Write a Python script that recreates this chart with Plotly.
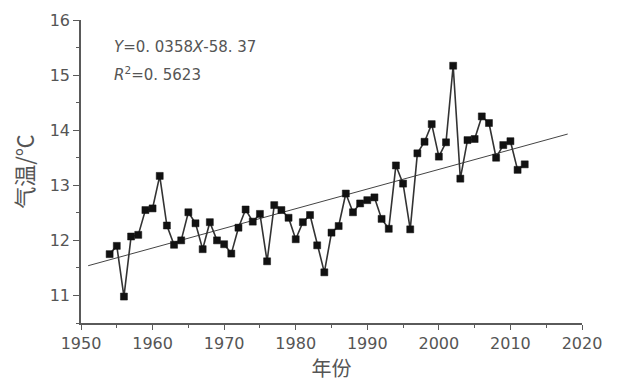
import plotly.graph_objects as go

years = list(range(1954, 2013))
temps = [11.75, 11.90, 10.98, 12.07, 12.10, 12.55, 12.58, 13.17, 12.27, 11.92,
         12.00, 12.51, 12.31, 11.84, 12.33, 12.00, 11.93, 11.76, 12.23, 12.56,
         12.34, 12.48, 11.62, 12.64, 12.55, 12.41, 12.02, 12.33, 12.46, 11.91,
         11.42, 12.14, 12.26, 12.85, 12.51, 12.67, 12.73, 12.78, 12.39, 12.21,
         13.36, 13.03, 12.20, 13.58, 13.79, 14.11, 13.52, 13.78, 15.17, 13.12,
         13.82, 13.84, 14.25, 14.13, 13.50, 13.73, 13.80, 13.28, 13.38]

trend_years = [1951, 2018]
trend_vals = [11.54, 13.93]

x_ticks = [1950, 1960, 1970, 1980, 1990, 2000, 2010, 2020]
y_ticks = [11, 12, 13, 14, 15, 16]

eq_text = "<i>Y</i>=0. 0358<i>X</i>-58. 37"
r2_text = "<i>R</i><sup>2</sup>=0. 5623"

axis_col = "#5a5a5a"
text_col = "#555555"

fig = go.Figure()
fig.add_trace(go.Scatter(x=trend_years, y=trend_vals, mode="lines",
                         line=dict(color="#444444", width=1), showlegend=False,
                         hoverinfo="skip"))
fig.add_trace(go.Scatter(x=years, y=temps, mode="lines+markers",
                         line=dict(color="#333333", width=1.6),
                         marker=dict(symbol="square", size=7, color="#111111",
                                     line=dict(color="#111111", width=0.5)),
                         showlegend=False))

fig.update_layout(
    width=617, height=383,
    margin=dict(l=81, r=35, t=20, b=60),
    paper_bgcolor="white", plot_bgcolor="white",
    font=dict(family="DejaVu Sans", color=text_col, size=16),
    xaxis=dict(range=[1950, 2020], tickvals=x_ticks, showgrid=False, zeroline=False,
               automargin=False,
               showline=True, linecolor=axis_col, linewidth=1.5,
               ticks="outside", ticklen=5, tickcolor=axis_col, tickwidth=1.2,
               minor=dict(dtick=5, tick0=1950, ticklen=3, ticks="outside", tickcolor=axis_col),
               tickfont=dict(size=16, color=text_col, family="DejaVu Sans"),
               title=dict(text="年份", standoff=6,
                          font=dict(size=20, family="Noto Sans CJK SC", color=text_col))),
    yaxis=dict(range=[10.5, 16], tickvals=y_ticks, showgrid=False, zeroline=False,
               automargin=False,
               showline=True, linecolor=axis_col, linewidth=1.5,
               ticks="outside", ticklen=6, tickcolor=axis_col, tickwidth=1.2,
               minor=dict(dtick=0.5, tick0=10.5, ticklen=3, ticks="outside", tickcolor=axis_col),
               tickfont=dict(size=16, color=text_col, family="DejaVu Sans"),
               title=dict(text="气温/℃", standoff=10,
                          font=dict(size=22, family="Noto Sans CJK SC", color=text_col))),
    annotations=[
        dict(x=1954.4, y=15.51, xref="x", yref="y", text=eq_text, showarrow=False,
             xanchor="left", yanchor="middle",
             font=dict(size=15, family="DejaVu Sans", color=text_col)),
        dict(x=1954.4, y=15.02, xref="x", yref="y", text=r2_text, showarrow=False,
             xanchor="left", yanchor="middle",
             font=dict(size=15, family="DejaVu Sans", color=text_col)),
    ],
)

fig.write_html("out.html", config={"displayModeBar": False},
               post_script="document.body.style.margin='0';document.body.style.overflow='hidden';")
